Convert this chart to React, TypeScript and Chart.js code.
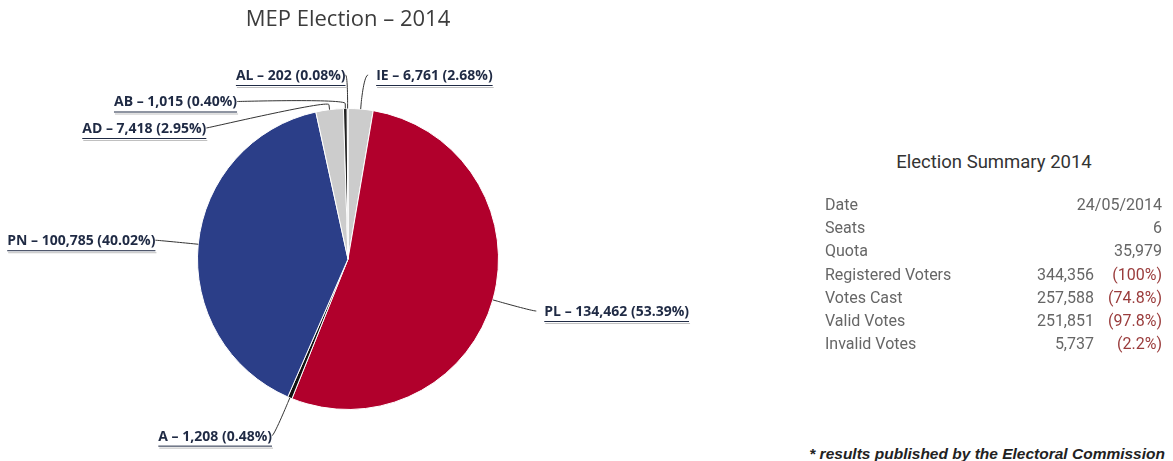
import React, { useEffect, useRef } from 'react';
import { Chart, registerables } from 'chart.js';

Chart.register(...registerables);

// ---- Data ----
const parties = ['IE', 'PL', 'A', 'PN', 'AD', 'AB', 'AL'];
const votes = [6761, 134462, 1208, 100785, 7418, 1015, 202];
const sliceColors = ['#cccccc', '#b1002c', '#111111', '#2b3e88', '#cccccc', '#222222', '#555555'];

const chartTitle = 'MEP Election \u2013 2014';
const summaryTitle = 'Election Summary 2014';
const summaryLabels = ['Date', 'Seats', 'Quota', 'Registered Voters', 'Votes Cast', 'Valid Votes', 'Invalid Votes'];
const summaryValues = ['24/05/2014', '6', '35,979', '344,356', '257,588', '251,851', '5,737'];
const summaryPercents = ['', '', '', '(100%)', '(74.8%)', '(97.8%)', '(2.2%)'];
const footnote = '* results published by the Electoral Commission';

const labelFont = 'bold 14px "Open Sans", sans-serif';
const labelColor = '#1f2a44';

const pieLabelsPlugin = {
  id: 'pieLabels',
  afterDraw(chart: any) {
    const ctx = chart.ctx as CanvasRenderingContext2D;
    const meta = chart.getDatasetMeta(0);
    const data = chart.data.datasets[0].data as number[];
    const labels = chart.data.labels as string[];
    const total = data.reduce((a, b) => a + b, 0);
    const DIST = 41;
    const GAP = 26.5;
    const minY = 75;
    const maxY = chart.height - 19;

    const items = meta.data.map((arc: any, i: number) => {
      const p = arc.getProps(['x', 'y', 'startAngle', 'endAngle', 'outerRadius'], true);
      const mid = (p.startAngle + p.endAngle) / 2;
      const R = p.outerRadius + DIST;
      const left = Math.cos(mid) < 0;
      const idealY = p.y + Math.sin(mid) * R;
      return { i, p, mid, R, left, idealY, y: idealY };
    });

    for (const side of [true, false]) {
      const list = items.filter((it: any) => it.left === side).sort((a: any, b: any) => a.idealY - b.idealY);
      let prev = -Infinity;
      for (const it of list) {
        it.y = Math.max(it.idealY, minY, prev + GAP);
        prev = it.y;
      }
      let next = Infinity;
      for (let k = list.length - 1; k >= 0; k--) {
        const it = list[k];
        it.y = Math.min(it.y, maxY, next - GAP);
        next = it.y;
      }
    }

    ctx.save();
    ctx.font = labelFont;
    ctx.textBaseline = 'middle';
    for (const it of items) {
      const { p, mid, R, left, y, i } = it;
      const dyRef = Math.abs(y - it.idealY) < 10 ? it.idealY - p.y : y - p.y;
      const dx = Math.sqrt(Math.max(0, R * R - dyRef * dyRef));
      const ax = p.x + (left ? -dx : dx);
      const pt = (r: number) => ({ x: p.x + Math.cos(mid) * r, y: p.y + Math.sin(mid) * r });
      const base = pt(p.outerRadius);
      const brk = pt(p.outerRadius + 5);
      const cp2 = pt(p.outerRadius + 10);

      // connector
      ctx.beginPath();
      ctx.strokeStyle = '#333333';
      ctx.lineWidth = 1;
      ctx.moveTo(ax + (left ? -2 : 4), y);
      ctx.bezierCurveTo(ax, y, cp2.x, cp2.y, brk.x, brk.y);
      ctx.lineTo(base.x, base.y);
      ctx.stroke();

      // text
      const pct = ((data[i] / total) * 100).toFixed(2);
      const text = `${labels[i]} \u2013 ${data[i].toLocaleString('en-US')} (${pct}%)`;
      const w = ctx.measureText(text).width;
      const tx = left ? ax - 2 - w : ax + 12;
      const ty = y + 1;
      ctx.fillStyle = labelColor;
      ctx.textAlign = 'left';
      ctx.fillText(text, tx, ty);
      // underline + soft shadow
      ctx.beginPath();
      ctx.strokeStyle = labelColor;
      ctx.moveTo(tx, ty + 9.5);
      ctx.lineTo(tx + w, ty + 9.5);
      ctx.stroke();
      ctx.beginPath();
      ctx.strokeStyle = 'rgba(150,150,150,0.6)';
      ctx.moveTo(tx + 1, ty + 11.5);
      ctx.lineTo(tx + w + 1, ty + 11.5);
      ctx.stroke();
    }
    ctx.restore();
  },
};

function PieChart() {
  const ref = useRef<HTMLCanvasElement | null>(null);
  useEffect(() => {
    if (!ref.current) return;
    const chart = new Chart(ref.current, {
      type: 'pie',
      data: {
        labels: parties,
        datasets: [
          {
            data: votes,
            backgroundColor: sliceColors,
            borderColor: '#ffffff',
            borderWidth: 1,
          },
        ],
      },
      options: {
        responsive: false,
        animation: false,
        layout: { padding: { left: 197, right: 201, top: 0, bottom: 51 } },
        plugins: {
          legend: { display: false },
          tooltip: { enabled: false },
          title: {
            display: true,
            text: chartTitle,
            color: '#3c3c3c',
            font: { family: '"Open Sans", sans-serif', size: 22, weight: 'normal', lineHeight: 1.1 },
            padding: { top: 8, bottom: 75.8 },
          },
        },
      },
      plugins: [pieLabelsPlugin],
    });
    return () => chart.destroy();
  }, []);
  return <canvas ref={ref} width={700} height={461} style={{ position: 'absolute', left: 0, top: 0 }} />;
}

export default function App() {
  useEffect(() => {
    document.body.style.margin = '0';
  }, []);
  const rowTop = 193;
  const rowH = 23.2;
  return (
    <div style={{ position: 'relative', width: 1173, height: 461, overflow: 'hidden', background: '#fff' }}>
      <PieChart />
      <div
        style={{
          position: 'absolute',
          left: 860,
          width: 268,
          top: 148,
          textAlign: 'center',
          fontFamily: 'Roboto, sans-serif',
          fontSize: 18.5,
          lineHeight: '28px',
          color: '#333',
        }}
      >
        {summaryTitle}
      </div>
      {summaryLabels.map((lab, i) => (
        <div
          key={lab}
          style={{
            position: 'absolute',
            left: 0,
            width: 1173,
            top: rowTop + i * rowH,
            height: 24,
            fontFamily: 'Roboto, sans-serif',
            fontSize: 16,
            lineHeight: '24px',
            color: '#666',
          }}
        >
          <span style={{ position: 'absolute', left: 825 }}>{lab}</span>
          <span style={{ position: 'absolute', right: summaryPercents[i] ? 79 : 11 }}>{summaryValues[i]}</span>
          {summaryPercents[i] ? (
            <span style={{ position: 'absolute', right: 11, color: '#9a3c3c' }}>{summaryPercents[i]}</span>
          ) : null}
        </div>
      ))}
      <div
        style={{
          position: 'absolute',
          right: 8,
          top: 444,
          fontFamily: '"Liberation Sans", Arial, sans-serif',
          fontWeight: 'bold',
          fontStyle: 'italic',
          fontSize: 15.5,
          lineHeight: '20px',
          color: '#222',
          whiteSpace: 'nowrap',
        }}
      >
        {footnote}
      </div>
    </div>
  );
}
